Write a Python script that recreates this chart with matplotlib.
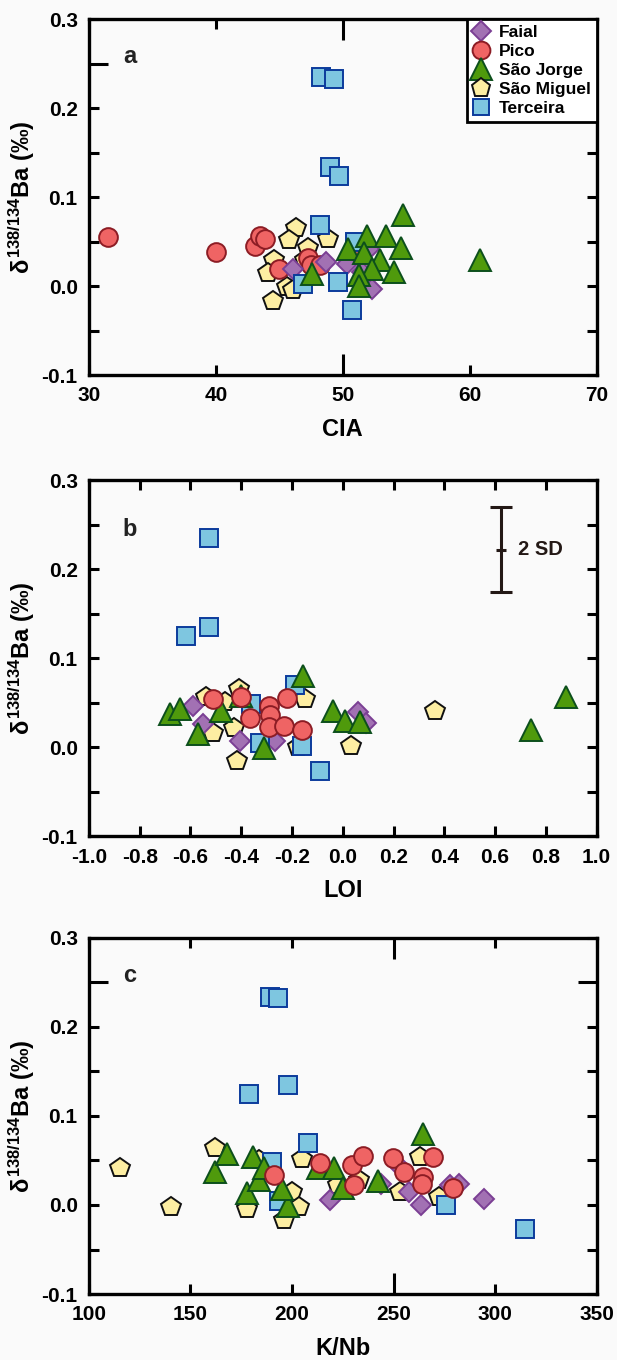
import matplotlib
matplotlib.use("Agg")
import matplotlib.pyplot as plt

plt.rcParams["font.family"] = ["Liberation Sans", "DejaVu Sans"]
plt.rcParams["font.weight"] = "bold"
plt.rcParams["axes.unicode_minus"] = False
plt.rcParams["mathtext.fontset"] = "custom"
plt.rcParams["mathtext.rm"] = "Liberation Sans:bold"
plt.rcParams["mathtext.it"] = "Liberation Sans:bold"
plt.rcParams["mathtext.bf"] = "Liberation Sans:bold"

# ---------- data ----------
# panel a: CIA
faial_cia = [46.1, 48.7, 50.3, 52.1, 51.5, 52.3]
faial_a = [0.019, 0.027, 0.025, 0.042, 0.016, -0.003]
pico_cia = [31.5, 40.0, 43.1, 43.5, 43.9, 45.0, 47.3, 47.5, 48.2, 51.1]
pico_a = [0.055, 0.038, 0.045, 0.056, 0.053, 0.019, 0.032, 0.024, 0.024, 0.042]
jorge_cia = [54.75, 60.8, 51.9, 53.4, 50.4, 54.6, 51.7, 52.9, 54.0, 52.3, 51.3, 47.6, 51.3]
jorge_a = [0.080, 0.029, 0.056, 0.056, 0.042, 0.043, 0.037, 0.029, 0.016, 0.019, 0.013, 0.014, 0.000]
miguel_cia = [46.3, 45.8, 48.8, 47.3, 44.6, 44.1, 45.6, 46.1, 44.5, 47.0]
miguel_a = [0.065, 0.052, 0.053, 0.043, 0.029, 0.015, -0.001, -0.004, -0.016, 0.030]
terceira_cia = [48.3, 49.3, 49.0, 49.7, 48.2, 51.0, 46.9, 49.6, 50.7]
terceira_a = [0.235, 0.233, 0.134, 0.124, 0.069, 0.050, 0.002, 0.005, -0.027]

# panel b: LOI
faial_loi = [-0.59, -0.55, -0.405, -0.268, 0.06, 0.093]
faial_b = [0.046, 0.026, 0.007, 0.007, 0.040, 0.027]
pico_loi = [-0.51, -0.40, -0.218, -0.29, -0.287, -0.366, -0.29, -0.23, -0.159]
pico_b = [0.054, 0.057, 0.055, 0.046, 0.036, 0.033, 0.023, 0.024, 0.020]
jorge_loi = [-0.68, -0.64, -0.57, -0.478, -0.40, -0.156, -0.31, -0.038, 0.008, 0.067, 0.74, 0.88]
jorge_b = [0.037, 0.043, 0.015, 0.041, 0.058, 0.080, -0.001, 0.041, 0.030, 0.028, 0.020, 0.056]
miguel_loi = [-0.537, -0.41, -0.15, -0.43, -0.51, -0.418, -0.176, 0.031, 0.362, -0.465]
miguel_b = [0.056, 0.066, 0.054, 0.022, 0.016, -0.015, 0.000, 0.001, 0.041, 0.051]
terceira_loi = [-0.528, -0.618, -0.528, -0.189, -0.36, -0.327, -0.159, -0.09]
terceira_b = [0.235, 0.125, 0.135, 0.070, 0.049, 0.005, 0.002, -0.027]

# panel c: K/Nb
faial_knb = [218.6, 243.9, 251.3, 257.5, 263.4, 277.9, 282.4, 294.4]
faial_c = [0.006, 0.024, 0.047, 0.015, 0.000, 0.022, 0.024, 0.007]
pico_knb = [191.4, 213.7, 229.7, 235.1, 230.7, 249.7, 255.0, 264.7, 263.9, 269.2, 279.5]
pico_c = [0.034, 0.047, 0.045, 0.055, 0.022, 0.053, 0.037, 0.031, 0.023, 0.054, 0.019]
jorge_knb = [162.2, 168.0, 177.8, 183.6, 181.0, 186.0, 212.8, 220.6, 225.0, 242.6, 198.2, 195.0, 264.5]
jorge_c = [0.037, 0.057, 0.013, 0.028, 0.054, 0.042, 0.041, 0.042, 0.019, 0.027, -0.001, 0.018, 0.080]
miguel_knb = [115.5, 140.2, 162.0, 177.8, 183.6, 195.9, 200.1, 203.6, 205.0, 222.5, 233.0, 253.0, 263.0, 272.5]
miguel_c = [0.041, -0.002, 0.064, -0.004, 0.050, -0.017, 0.015, -0.002, 0.052, 0.022, 0.028, 0.015, 0.054, 0.009]
terceira_knb = [189.1, 193.2, 178.7, 198.2, 207.8, 190.4, 193.5, 275.6, 314.9]
terceira_c = [0.234, 0.232, 0.125, 0.135, 0.070, 0.048, 0.005, 0.000, -0.027]

ISL = ["Faial", "Pico", "São Jorge", "São Miguel", "Terceira"]
STY = {
    "Faial": dict(marker="D", ms=10.5, mfc="#a271b3", mec="#7b3f94"),
    "Pico": dict(marker="o", ms=13.5, mfc="#ef6464", mec="#8c1c24"),
    "São Jorge": dict(marker="^", ms=16, mfc="#4f9a0c", mec="#0c4f1c"),
    "São Miguel": dict(marker="p", ms=14.5, mfc="#fdeea2", mec="#111111"),
    "Terceira": dict(marker="s", ms=12.5, mfc="#7ec6e0", mec="#0b3b9c"),
}
PANELS = [
    dict(tag="a", xlab="CIA", xlim=(30, 70), xt=[30, 40, 50, 60, 70], xl=["30", "40", "50", "60", "70"], long_x=50,
         order=["São Miguel", "Pico", "Faial", "Terceira", "São Jorge"],
         data={"Faial": (faial_cia, faial_a), "Pico": (pico_cia, pico_a), "São Jorge": (jorge_cia, jorge_a),
               "São Miguel": (miguel_cia, miguel_a), "Terceira": (terceira_cia, terceira_a)}),
    dict(tag="b", xlab="LOI", xlim=(-1.0, 1.0), xt=[-1.0 + 0.2 * i for i in range(11)],
         xl=["-1.0", "-0.8", "-0.6", "-0.4", "-0.2", "0.0", "0.2", "0.4", "0.6", "0.8", "1.0"], long_x=None,
         order=["São Miguel", "Faial", "Terceira", "São Jorge", "Pico"],
         data={"Faial": (faial_loi, faial_b), "Pico": (pico_loi, pico_b), "São Jorge": (jorge_loi, jorge_b),
               "São Miguel": (miguel_loi, miguel_b), "Terceira": (terceira_loi, terceira_b)}),
    dict(tag="c", xlab="K/Nb", xlim=(100, 350), xt=[100, 150, 200, 250, 300, 350],
         xl=["100", "150", "200", "250", "300", "350"], long_x=250,
         order=["São Miguel", "Faial", "Terceira", "São Jorge", "Pico"],
         data={"Faial": (faial_knb, faial_c), "Pico": (pico_knb, pico_c), "São Jorge": (jorge_knb, jorge_c),
               "São Miguel": (miguel_knb, miguel_c), "Terceira": (terceira_knb, terceira_c)}),
]
YT = [-0.1, 0.0, 0.1, 0.2, 0.3]
YL = ["-0.1", "0.0", "0.1", "0.2", "0.3"]
YMIN = [-0.05, 0.05, 0.15, 0.25]

fig = plt.figure(figsize=(6.17, 13.6), dpi=100, facecolor="#fafafa")
bottoms = [0.724, 0.385, 0.0485]
handles = {}
for P, bot in zip(PANELS, bottoms):
    ax = fig.add_axes([0.144, bot, 0.823, 0.262], facecolor="#fafafa")
    for isl in P["order"]:
        xs, ys = P["data"][isl]
        s = STY[isl]
        h, = ax.plot(xs, ys, ls="none", marker=s["marker"], ms=s["ms"], mfc=s["mfc"],
                     mec=s["mec"], mew=1.4, label=isl)
        handles[isl] = h
    ax.set_xlim(*P["xlim"]); ax.set_ylim(-0.1, 0.3)
    ax.set_xticks(P["xt"]); ax.set_xticklabels(P["xl"])
    ax.set_yticks(YT); ax.set_yticklabels(YL)
    ax.set_yticks(YMIN, minor=True)
    ax.tick_params(which="both", direction="in", top=True, right=True, width=2.2, length=7,
                   labelsize=15, pad=8)
    for t in ax.get_xticklabels() + ax.get_yticklabels():
        t.set_fontweight("bold")
    for sp in ax.spines.values():
        sp.set_linewidth(2.4)
    if P["long_x"] is not None:
        for t, v in zip(ax.xaxis.get_major_ticks(), P["xt"]):
            if abs(v - P["long_x"]) < 1e-9:
                t.tick1line.set_markersize(15); t.tick2line.set_markersize(15)
        for t, v in zip(ax.yaxis.get_minor_ticks(), YMIN):
            if abs(v - 0.25) < 1e-9:
                t.tick1line.set_markersize(14); t.tick2line.set_markersize(14)
    ax.set_xlabel(P["xlab"], fontsize=17, fontweight="bold", labelpad=9)
    ax.set_ylabel(r"$\delta^{138/134}$Ba (‰)", fontsize=17, fontweight="bold", labelpad=3)
    ax.text(0.08, 0.895 if P["tag"] != "b" else 0.86, P["tag"], transform=ax.transAxes,
            fontsize=17, fontweight="bold", color="#222", ha="center", va="center")
    if P["tag"] == "a":
        leg = ax.legend([handles[i] for i in ISL], ISL, loc="upper right", borderaxespad=0,
                        fancybox=False, edgecolor="black", framealpha=1, facecolor="white",
                        prop=dict(size=12.5, weight="bold"), handletextpad=0.5, labelspacing=0.22,
                        borderpad=0.35, handlelength=1.0, markerscale=0.95)
        leg.get_frame().set_linewidth(2)
    if P["tag"] == "b":
        ax.errorbar([0.625], [0.222], yerr=[0.048], color="#231815", capsize=8, capthick=2.2,
                    elinewidth=2.2, marker="_", ms=7, mew=2.2)
        ax.text(0.69, 0.222, "2 SD", fontsize=14.5, fontweight="bold", color="#231815",
                ha="left", va="center")

fig.savefig("out.png", dpi=100, facecolor=fig.get_facecolor())
